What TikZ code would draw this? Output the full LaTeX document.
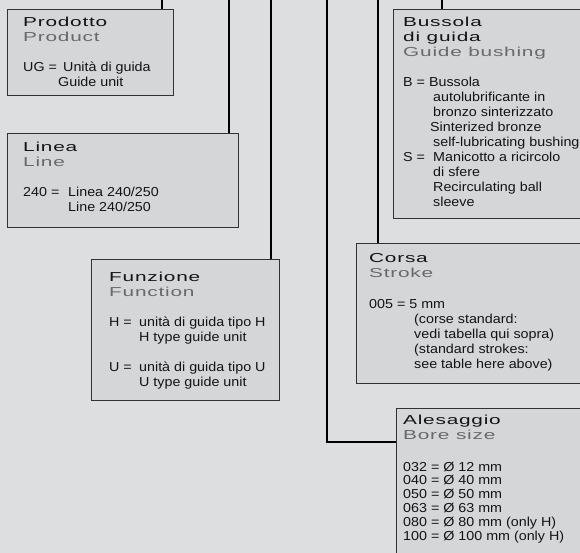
\documentclass[tikz,border=0pt]{standalone}
\usepackage{fontspec}
\setmainfont{Liberation Sans}[FakeStretch=1.1]
\newfontfamily\headfont{Liberation Sans}[FakeStretch=1.6,LetterSpace=6]
\usepackage{tikz}
\usetikzlibrary{positioning}
\definecolor{bgcol}{RGB}{221,222,224}
\definecolor{boxcol}{RGB}{213,214,216}
\definecolor{edgecol}{RGB}{50,50,50}
\definecolor{subcol}{RGB}{105,105,105}
\definecolor{bodycol}{RGB}{20,20,20}
\newcommand{\hdit}[1]{{\headfont\fontsize{13}{15}\selectfont #1}}
\newcommand{\hden}[1]{{\headfont\fontsize{13}{15}\selectfont\color{subcol}#1}}
\newcommand{\hrow}[1]{\multicolumn{2}{@{}l@{}}{#1}}

\begin{document}
\begin{tikzpicture}[x=1pt,y=-1pt,
    box/.style={draw=edgecol,line width=1.1pt,fill=boxcol,anchor=north west,inner sep=0pt},
    txt/.style={anchor=base west,inner sep=0pt,text=bodycol,font=\fontsize{13}{15}\selectfont},
    link/.style={line width=1.2pt,black}]
  \useasboundingbox (0,0) rectangle (580,553);
  \fill[bgcol] (0,0) rectangle (580,553);
  \clip (0,0) rectangle (580,553);
  % boxes
  \node[box,minimum width=166,minimum height=86] (prodotto) at (7,9) {};
  \node[box,minimum width=231,minimum height=94] (linea) at (7,133) {};
  \node[box,minimum width=188,minimum height=141] (funzione) at (91,259) {};
  \node[box,minimum width=200,minimum height=209] (bussola) at (393,9) {};
  \node[box,minimum width=240,minimum height=140] (corsa) at (356,243) {};
  \node[box,minimum width=200,minimum height=160] (alesaggio) at (396,408) {};
  % leader lines from the top edge
  \coordinate (tprod) at (162,0);
  \coordinate (tlinea) at (229,0);
  \coordinate (tfunz) at (271,0);
  \coordinate (tales) at (327,0);
  \coordinate (bend) at (327,442);
  \coordinate (tcorsa) at (378,0);
  \coordinate (tbuss) at (442,0);
  \draw[link] (tprod) -- (tprod |- prodotto.north);
  \draw[link] (tlinea) -- (tlinea |- linea.north);
  \draw[link] (tfunz) -- (tfunz |- funzione.north);
  \draw[link] (tales) -- (bend) -- (bend -| alesaggio.west);
  \draw[link] (tcorsa) -- (tcorsa |- corsa.north);
  \draw[link] (tbuss) -- (tbuss |- bussola.north);
  % texts
  \node[txt] (prodottotxt) at (23,27) {\begin{tabular}[t]{@{}p{40pt}@{}l@{}}
    \hrow{\hdit{Prodotto}}\\
    \hrow{\hden{Product}}\\[15pt]
    UG = & Unità di guida\\
    & \hspace*{-5pt}Guide unit
  \end{tabular}};
  \node[txt] (lineatxt) at (23,152) {\begin{tabular}[t]{@{}p{45pt}@{}l@{}}
    \hrow{\hdit{Linea}}\\
    \hrow{\hden{Line}}\\[15pt]
    240 = & Linea 240/250\\
    & Line 240/250
  \end{tabular}};
  \node[txt] (funzionetxt) at (109,281) {\begin{tabular}[t]{@{}p{30pt}@{}l@{}}
    \hrow{\hdit{Funzione}}\\
    \hrow{\hden{Function}}\\[15pt]
    H = & unità di guida tipo H\\
    & H type guide unit\\[15pt]
    U = & unità di guida tipo U\\
    & U type guide unit
  \end{tabular}};
  \node[txt] (bussolatxt) at (403,27) {\begin{tabular}[t]{@{}p{30pt}@{}l@{}}
    \hrow{\hdit{Bussola}}\\
    \hrow{\hdit{di guida}}\\
    \hrow{\hden{Guide bushing}}\\[15pt]
    \hrow{B = Bussola}\\
    & autolubrificante in\\
    & bronzo sinterizzato\\
    & \hspace*{-3pt}Sinterized bronze\\
    & self-lubricating bushing\\
    S = & Manicotto a ricircolo\\
    & di sfere\\
    & Recirculating ball\\
    & sleeve
  \end{tabular}};
  \node[txt] (corsatxt) at (369,262) {\begin{tabular}[t]{@{}p{45pt}@{}l@{}}
    \hrow{\hdit{Corsa}}\\
    \hrow{\hden{Stroke}}\\[16pt]
    \hrow{005 = 5 mm}\\
    & (corse standard:\\
    & vedi tabella qui sopra)\\
    & (standard strokes:\\
    & see table here above)
  \end{tabular}};
  \node[txt] (alesaggiotxt) at (403,424) {\begin{tabular}[t]{@{}l@{}}
    \hdit{Alesaggio}\\
    \hden{Bore size}\\[17pt]
    032 = Ø 12 mm\\[-1.2pt]
    040 = Ø 40 mm\\[-1.2pt]
    050 = Ø 50 mm\\[-1.2pt]
    063 = Ø 63 mm\\[-1.2pt]
    080 = Ø 80 mm (only H)\\[-1.2pt]
    100 = Ø 100 mm (only H)
  \end{tabular}};
\end{tikzpicture}
\end{document}
